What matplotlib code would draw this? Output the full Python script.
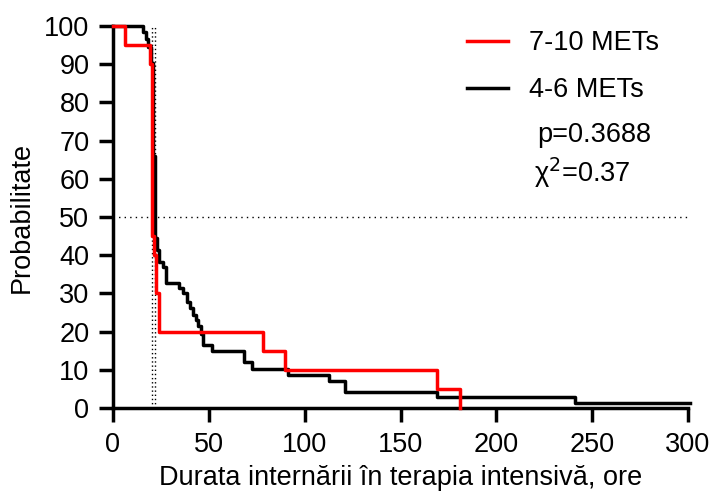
import matplotlib
matplotlib.use("Agg")
import matplotlib.pyplot as plt

plt.rcParams['font.family'] = ['Liberation Sans', 'DejaVu Sans']

# Kaplan-Meier steps: time (ore) and survival (%) after each drop
red_t = [0, 6.3, 19.3, 20.3, 21.3, 22.6, 24.2, 78.4, 89.7, 168.8, 181.0]
red_s = [100, 95, 90, 45, 40, 30, 20, 15, 10, 5, 0]

black_t = [0, 15.8, 17.2, 18.4, 19.6, 21.0, 22.0, 22.7, 24.2, 25.9, 27.6, 34.6, 36.7,
           38.4, 40.2, 41.9, 43.1, 44.5, 45.7, 47.1, 51.5, 68.3, 72.3, 91.5, 112.5,
           120.8, 169.3, 241.0]
black_s = [100, 98.5, 96.5, 94.6, 90.2, 66, 44.5, 41.4, 38.3, 37.0, 32.6, 31.3, 30.0,
           27.8, 26.1, 24.3, 23.0, 21.5, 19.5, 16.5, 15.0, 12.0, 10.1, 8.6, 7.0,
           4.2, 2.9, 1.4]
black_end = 301

red_median = 20.3
black_median = 22.0

FS = 19.5
W, H = 714, 498

fig = plt.figure(figsize=(W / 100, H / 100), dpi=100)
ax = fig.add_axes([113 / W, 1 - 408 / H, 575 / W, 382 / H])

# median lines
ax.plot([0, 300], [50, 50], color='black', lw=1.0, ls=(0, (1, 3)), clip_on=False)
ax.plot([red_median, red_median], [0, 100], color='black', lw=1.0, ls=(0, (1, 2)), clip_on=False)
ax.plot([black_median, black_median], [0, 100], color='black', lw=1.0, ls=(0, (1, 2)), clip_on=False)

bt = black_t + [black_end]
bs = black_s + [black_s[-1]]
ax.step(bt, bs, where='post', color='black', lw=2.5, label='4-6 METs', clip_on=False, zorder=3)
ax.step(red_t, red_s, where='post', color='#ff0000', lw=2.5, label='7-10 METs', clip_on=False, zorder=4)

ax.set_xlim(0, 300)
ax.set_ylim(0, 100)
ax.set_xticks(range(0, 301, 50))
ax.set_yticks(range(0, 101, 10))
for s in ['top', 'right']:
    ax.spines[s].set_visible(False)
for s in ['left', 'bottom']:
    ax.spines[s].set_linewidth(2.5)
ax.tick_params(width=2.5, length=10, labelsize=FS, direction='out', pad=7)

ax.set_xlabel('Durata internării în terapia intensivă, ore', fontsize=FS, labelpad=5)
ax.set_ylabel('Probabilitate', fontsize=FS, labelpad=7)

h, l = ax.get_legend_handles_labels()
leg = fig.legend(h[::-1], l[::-1], loc='upper left', bbox_to_anchor=(467 / W, 1 - 30 / H),
                 frameon=False, fontsize=FS, handlelength=1.5, handletextpad=0.8,
                 labelspacing=0.78, borderpad=0, borderaxespad=0)

fig.text(537 / W, 1 - 142 / H, 'p=0.3688', fontsize=FS, va='baseline')
fig.text(534 / W, 1 - 182 / H, r'χ$^2$=0.37', fontsize=FS, va='baseline')

fig.savefig('out.png', dpi=100)
